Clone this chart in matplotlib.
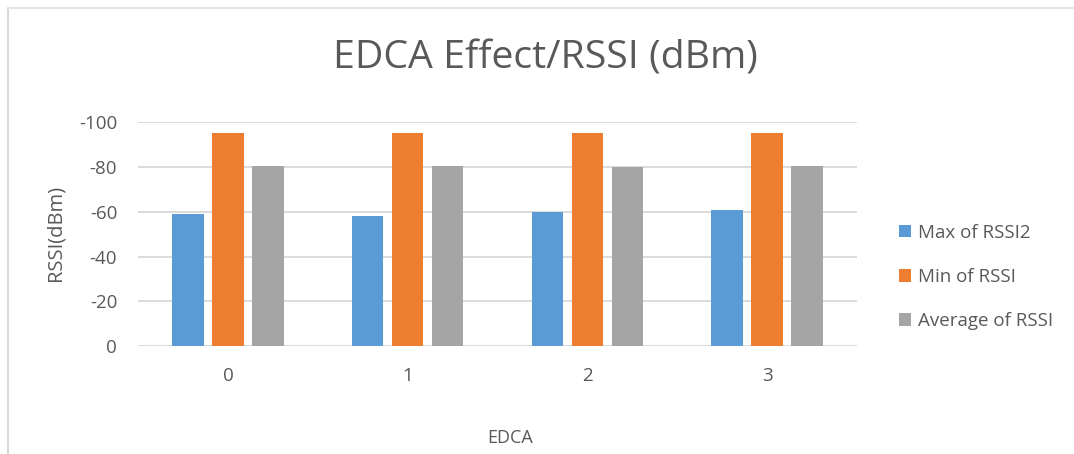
import matplotlib
matplotlib.use("Agg")
import matplotlib.pyplot as plt
import numpy as np
from matplotlib.lines import Line2D

plt.rcParams["font.family"] = ["Open Sans", "DejaVu Sans"]
plt.rcParams["axes.unicode_minus"] = False

categories = ["0", "1", "2", "3"]
max_rssi2 = [-59, -58, -60, -61]
min_rssi = [-95, -95, -95, -95]
avg_rssi = [-80.4, -80.5, -79.8, -80.6]
series_names = ["Max of RSSI2", "Min of RSSI", "Average of RSSI"]
colors = ["#5B9BD5", "#ED7D31", "#A5A5A5"]
yticks = [0, -20, -40, -60, -80, -100]

text_color = "#595959"

fig = plt.figure(figsize=(10.74, 4.54), dpi=100)
fig.patch.set_facecolor("white")

# chart-area border (left and top edges)
bx, by = 8 / 1074, 1 - 8 / 454
fig.lines.append(Line2D([bx, bx], [0, by], transform=fig.transFigure,
                        color="#d9d9d9", linewidth=1.5))
fig.lines.append(Line2D([bx, 1], [by, by], transform=fig.transFigure,
                        color="#e6e6e6", linewidth=1.5))

ax = fig.add_axes([138 / 1074, 1 - 346 / 454, (857 - 138) / 1074, (346 - 122.3) / 454])

x = np.arange(len(categories))
step = 0.222
width = 0.175
for i, (vals, name, c) in enumerate(zip([max_rssi2, min_rssi, avg_rssi], series_names, colors)):
    ax.bar(x + (i - 1) * step, vals, width=width, color=c, label=name, zorder=3)

ax.set_xlim(-0.5, len(categories) - 0.5)
ax.set_ylim(0, -100)
ax.set_yticks(yticks)
ax.set_yticklabels([str(t) for t in yticks])
ax.set_xticks(x)
ax.set_xticklabels(categories)
ax.grid(axis="y", color="#d9d9d9", linewidth=1.3, zorder=0)
ax.set_axisbelow(True)
for s in ["top", "right", "left", "bottom"]:
    ax.spines[s].set_visible(False)
ax.tick_params(axis="both", length=0, labelsize=13.5, colors=text_color)
ax.tick_params(axis="y", pad=15)
ax.tick_params(axis="x", pad=15)

fig.text(55 / 1074, 1 - 233 / 454, "RSSI(dBm)", rotation=90, ha="center", va="center",
         fontsize=14.5, color=text_color)
fig.text(510 / 1074, 1 - 438 / 454, "EDCA", ha="center", va="center",
         fontsize=13, color=text_color)
fig.text(545 / 1074, 1 - 58 / 454, "EDCA Effect/RSSI (dBm)", ha="center", va="center",
         fontsize=28.3, color=text_color)

leg = fig.legend(loc="center left", bbox_to_anchor=(882 / 1074, 1 - 277 / 454),
                 frameon=False, fontsize=13.5, labelcolor=text_color,
                 handlelength=0.65, handleheight=0.65, handletextpad=0.35,
                 labelspacing=1.4)

fig.savefig("out.png", dpi=100, facecolor="white")
